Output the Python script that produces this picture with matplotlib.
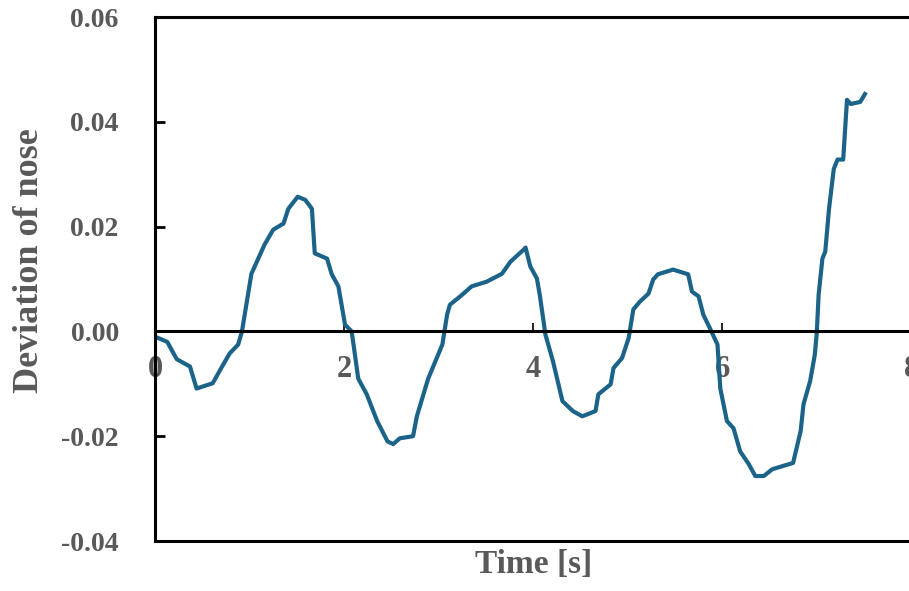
import numpy as np
import matplotlib.pyplot as plt

time_s = [0.00, 0.13, 0.23, 0.37, 0.44, 0.61, 0.71, 0.79, 0.88, 0.92, 0.96,
          1.02, 1.08, 1.16, 1.25, 1.36, 1.41, 1.51, 1.59, 1.66, 1.69, 1.82,
          1.87, 1.94, 2.01, 2.08, 2.10, 2.15, 2.24, 2.35, 2.46, 2.52, 2.59,
          2.73, 2.77, 2.89, 3.04, 3.09, 3.12, 3.23, 3.35, 3.51, 3.67, 3.76,
          3.90, 3.92, 3.97, 4.04, 4.07, 4.13, 4.21, 4.31, 4.42, 4.52, 4.66,
          4.69, 4.82, 4.85, 4.94, 5.01, 5.06, 5.13, 5.22, 5.27, 5.32, 5.48,
          5.64, 5.68, 5.75, 5.80, 5.87, 5.95, 5.98, 6.05, 6.12, 6.19, 6.28,
          6.35, 6.44, 6.53, 6.75, 6.83, 6.86, 6.93, 6.98, 7.00, 7.02, 7.06,
          7.09, 7.13, 7.18, 7.22, 7.28, 7.32, 7.36, 7.46, 7.51]
deviation = [-0.0010, -0.0020, -0.0053, -0.0067, -0.0109, -0.0099, -0.0067,
             -0.0042, -0.0025, 0.0000, 0.0044, 0.0110, 0.0134, 0.0166, 0.0194,
             0.0206, 0.0234, 0.0257, 0.0251, 0.0234, 0.0149, 0.0139, 0.0109,
             0.0086, 0.0013, 0.0000, -0.0025, -0.0090, -0.0120, -0.0171,
             -0.0210, -0.0215, -0.0204, -0.0200, -0.0162, -0.0090, -0.0025,
             0.0032, 0.0051, 0.0067, 0.0086, 0.0095, 0.0110, 0.0133, 0.0156,
             0.0160, 0.0124, 0.0101, 0.0070, -0.0006, -0.0057, -0.0133,
             -0.0152, -0.0162, -0.0152, -0.0120, -0.0101, -0.0070, -0.0051,
             -0.0013, 0.0042, 0.0057, 0.0072, 0.0099, 0.0109, 0.0118, 0.0109,
             0.0076, 0.0067, 0.0032, 0.0006, -0.0025, -0.0109, -0.0171,
             -0.0185, -0.0229, -0.0253, -0.0276, -0.0276, -0.0263, -0.0251,
             -0.0190, -0.0139, -0.0095, -0.0044, -0.0004, 0.0070, 0.0139,
             0.0152, 0.0234, 0.0310, 0.0328, 0.0328, 0.0442, 0.0434, 0.0438,
             0.0453]

xticks = [0, 2, 4, 6, 8]
yticks = [-0.04, -0.02, 0.00, 0.02, 0.04, 0.06]

plt.rcParams["font.family"] = ["Liberation Serif", "DejaVu Serif"]
grey = "#595959"

fig = plt.figure(figsize=(9.09, 5.91), dpi=100)
ax = fig.add_axes([0.1705, 0.0846, 0.832, 0.8866])

ax.plot(time_s, deviation, color="#1b6389", lw=3.0, solid_joinstyle="round")

ax.set_xlim(0, 8)
ax.set_ylim(-0.04, 0.06)

# x axis runs along zero; the frame bottom is drawn separately
ax.spines["bottom"].set_position(("data", 0))
ax.spines["right"].set_visible(False)
for s in ["bottom", "left", "top"]:
    ax.spines[s].set_linewidth(2.2)
ax.axhline(-0.04, color="black", lw=2.2, clip_on=False)

ax.set_xticks(xticks)
ax.set_xticklabels([str(v) for v in xticks])
ax.set_yticks(yticks)
ax.set_yticklabels([f"{v:.2f}" for v in yticks])
ax.tick_params(axis="x", direction="in", length=6, width=1.2, pad=17,
               labelsize=22, labelcolor=grey)
ax.tick_params(axis="y", direction="in", length=7, width=2, pad=26,
               labelsize=20, labelcolor=grey)
for lab in ax.get_yticklabels() + ax.get_xticklabels():
    lab.set_fontweight("bold")

ax.set_xlabel("Time [s]", fontsize=24, fontweight="bold", color=grey)
ax.set_ylabel("Deviation of nose", fontsize=26, fontweight="bold", color=grey)
ax.xaxis.set_label_coords(0.5, -0.015, transform=ax.transAxes)
ax.xaxis.label.set_verticalalignment("top")
ax.yaxis.set_label_coords(-0.144, 0.535, transform=ax.transAxes)

fig.savefig("out.png", dpi=100)
